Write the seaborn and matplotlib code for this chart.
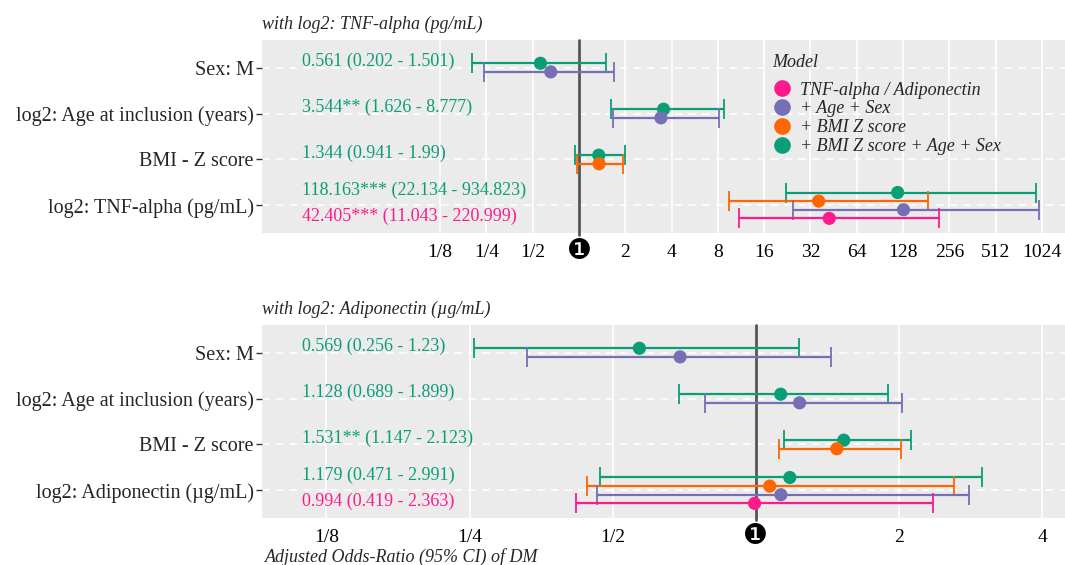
import matplotlib
matplotlib.use("Agg")
import matplotlib.pyplot as plt
from matplotlib.lines import Line2D
from matplotlib.ticker import NullLocator
import pandas as pd
import seaborn as sns

# models (legend order) and colours
models = ["TNF-alpha / Adiponectin", "+ Age + Sex", "+ BMI Z score", "+ BMI Z score + Age + Sex"]
model_colors = ["#FF1A8C", "#7570B3", "#FF6600", "#0A9E77"]
stack_order = [3, 2, 1, 0]      # top-to-bottom inside a row
labelled = [3, 0]               # models that get a text label

# panel 1: TNF-alpha
tnf_vars = ["Sex: M", "log2: Age at inclusion (years)", "BMI - Z score", "log2: TNF-alpha (pg/mL)"]
tnf_row = [0, 0, 1, 1, 2, 2, 3, 3, 3, 3]
tnf_model = [3, 1, 3, 1, 3, 2, 3, 2, 1, 0]
tnf_or = [0.561, 0.655, 3.544, 3.41, 1.344, 1.35, 118.163, 36.2, 129.0, 42.405]
tnf_lo = [0.202, 0.242, 1.626, 1.66, 0.941, 0.966, 22.134, 9.45, 24.5, 11.043]
tnf_hi = [1.501, 1.69, 8.777, 8.1, 1.99, 1.92, 934.823, 185.0, 983.0, 220.999]
tnf_stars = ["", "", "**", "", "", "", "***", "", "", "***"]
tnf_ticks = [1/8, 1/4, 1/2, 1, 2, 4, 8, 16, 32, 64, 128, 256, 512, 1024]
tnf_ticklabels = ["1/8", "1/4", "1/2", "\u2776", "2", "4", "8", "16", "32", "64", "128", "256", "512", "1024"]

# panel 2: Adiponectin
adi_vars = ["Sex: M", "log2: Age at inclusion (years)", "BMI - Z score", "log2: Adiponectin (\u00b5g/mL)"]
adi_row = [0, 0, 1, 1, 2, 2, 3, 3, 3, 3]
adi_model = [3, 1, 3, 1, 3, 2, 3, 2, 1, 0]
adi_or = [0.569, 0.693, 1.128, 1.236, 1.531, 1.48, 1.179, 1.07, 1.129, 0.994]
adi_lo = [0.256, 0.33, 0.689, 0.782, 1.147, 1.12, 0.471, 0.442, 0.463, 0.419]
adi_hi = [1.23, 1.44, 1.899, 2.03, 2.123, 2.02, 2.991, 2.61, 2.81, 2.363]
adi_stars = ["", "", "", "", "**", "", "", "", "", ""]
adi_ticks = [1/8, 1/4, 1/2, 1, 2, 4]
adi_ticklabels = ["1/8", "1/4", "1/2", "\u2776", "2", "4"]

sns.set_theme(style="darkgrid", rc={"axes.facecolor": "#EBEBEB"})
plt.rcParams["font.family"] = ["Liberation Serif", "DejaVu Sans"]

DODGE = 0.1875


def fmt(v):
    return f"{round(v, 3):g}"


def forest(ax, vars_, row, model, or_, lo, hi, stars, ticks, ticklabels, xlim, title):
    df = pd.DataFrame({"row": row, "model": model, "OR": or_, "lo": lo, "hi": hi, "stars": stars})
    # dodge positions: only the models present in a row share its width
    ypos = []
    for r, m in zip(df["row"], df["model"]):
        present = [k for k in stack_order if k in set(df.loc[df["row"] == r, "model"])]
        n = len(present)
        ypos.append(r + (present.index(m) - (n - 1) / 2) * DODGE)
    df["y"] = ypos
    df["name"] = [models[m] for m in df["model"]]

    ax.set_xscale("log", base=2)
    ax.axvline(1, ymin=-0.012, color="#555555", lw=2, zorder=2, clip_on=False)
    for _, d in df.iterrows():
        ax.errorbar(d["OR"], d["y"], xerr=[[d["OR"] - d["lo"]], [d["hi"] - d["OR"]]],
                    fmt="none", ecolor=model_colors[d["model"]], elinewidth=1.6,
                    capsize=7, capthick=1.3, zorder=3)
    sns.scatterplot(data=df, x="OR", y="y", hue="name", palette=dict(zip(models, model_colors)),
                    s=90, edgecolor="none", legend=False, zorder=4, ax=ax)

    for _, d in df[df["model"].isin(labelled)].iterrows():
        txt = f"{fmt(d['OR'])}{d['stars']} ({fmt(d['lo'])} - {fmt(d['hi'])})"
        ax.text(0.05, d["y"] - 0.04, txt, transform=ax.get_yaxis_transform(), ha="left", va="center",
                fontsize=13, color=model_colors[d["model"]], zorder=5)

    ax.set_xlim(*xlim)
    ax.set_ylim(3.6, -0.6)
    ax.set_xticks(ticks)
    ax.set_xticklabels(ticklabels)
    ax.xaxis.set_minor_locator(NullLocator())
    ax.set_yticks(range(len(vars_)))
    ax.set_yticklabels(vars_)
    ax.grid(axis="x", color="white", lw=1.2, ls="-")
    ax.grid(axis="y", color="white", lw=1.1, ls=(0, (5, 4)))
    ax.tick_params(axis="y", length=4, width=1, color="#333333", labelsize=14.5, pad=2, left=True)
    ax.tick_params(axis="x", length=0, labelsize=14, pad=14, colors="black")
    for lab in ax.get_xticklabels():
        lab.set_va("center")
        if lab.get_text() == "\u2776":
            lab.set_fontsize(20)
    ax.set_xlabel("")
    ax.set_ylabel("")
    for s in ax.spines.values():
        s.set_visible(False)
    ax.set_title(title, loc="left", fontstyle="italic", fontsize=13, pad=8)


fig = plt.figure(figsize=(10.65, 5.65), dpi=100)
ax1 = fig.add_axes([0.246, 0.5876, 0.754, 0.3416])
ax2 = fig.add_axes([0.246, 0.0832, 0.754, 0.3416])

forest(ax1, tnf_vars, tnf_row, tnf_model, tnf_or, tnf_lo, tnf_hi, tnf_stars,
       tnf_ticks, tnf_ticklabels, (2 ** -6.85, 2 ** 10.5), "with log2: TNF-alpha (pg/mL)")
forest(ax2, adi_vars, adi_row, adi_model, adi_or, adi_lo, adi_hi, adi_stars,
       adi_ticks, adi_ticklabels, (2 ** -3.45, 2 ** 2.16), "with log2: Adiponectin (\u00b5g/mL)")

ax2.set_xlabel("Adjusted Odds-Ratio (95% CI) of DM", loc="left", fontstyle="italic", fontsize=13, labelpad=0)
ax2.xaxis.set_label_coords(0.004, -0.2)
ax2.xaxis.label.set_va("center")

handles = [Line2D([], [], marker="o", ls="", color=c, markersize=12, markeredgewidth=0)
           for c in model_colors]
leg = ax1.legend(handles, models, title="Model", loc="upper left", bbox_to_anchor=(0.636, 0.93),
                 frameon=False, borderaxespad=0, borderpad=0, handlelength=1, handletextpad=0.5,
                 labelspacing=0.1, alignment="left", prop={"style": "italic", "size": 13},
                 title_fontproperties={"style": "italic", "size": 13})
leg._legend_box.sep = 8

fig.savefig("out.png", dpi=100)
